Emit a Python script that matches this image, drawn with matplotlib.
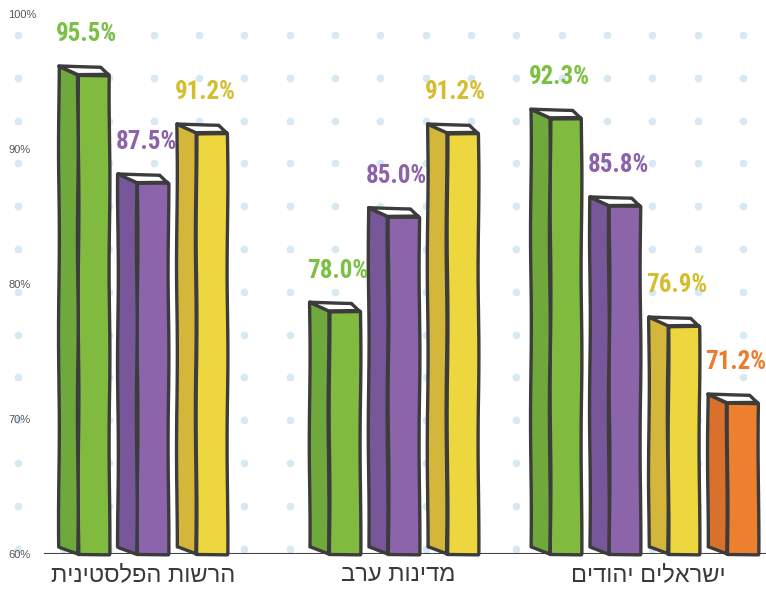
import numpy as np
import matplotlib.pyplot as plt
from matplotlib import font_manager
from matplotlib.patches import Polygon

groups = ["הרשות הפלסטינית", "מדינות ערב", "ישראלים יהודים"]
values = [
    [95.5, 87.5, 91.2],
    [78.0, 85.0, 91.2],
    [92.3, 85.8, 76.9, 71.2],
]
yticks = [60, 70, 80, 90, 100]
ytick_labels = ["60%", "70%", "80%", "90%", "100%"]

front_colors = ["#80bb40", "#8b64aa", "#eed63e", "#ed802e"]
side_colors = ["#70a93b", "#77569a", "#d3b63a", "#d9702b"]
label_colors = ["#7cc043", "#8c62aa", "#d4bd2e", "#ee7b2a"]
edge = "#3c3c3c"

# pick a narrow face for the numbers if the system has one
names = {f.name for f in font_manager.fontManager.ttflist}
if "Liberation Sans Narrow" in names:
    num_font = dict(family=["Liberation Sans Narrow"], fontsize=19)
elif "Roboto Condensed" in names:
    num_font = dict(family=["Roboto Condensed"], fontsize=18)
else:
    num_font = dict(family=["Roboto", "DejaVu Sans"], fontsize=16)
heb_font = dict(family=["Liberation Sans", "DejaVu Sans"], fontsize=17)

fig = plt.figure(figsize=(7.66, 5.89), dpi=100)
ax = fig.add_axes([0, 35 / 589, 1, 540 / 589])
ax.set_xlim(-143 / 59, 623 / 59)
ax.set_ylim(60, 100)
for s in ax.spines.values():
    s.set_visible(False)

# dotted background
gx = np.arange(17) * 0.768 - 2.12
gy = 98.44 - np.arange(13) * 3.17
GX, GY = np.meshgrid(gx, gy)
ax.plot(GX.ravel(), GY.ravel(), "o", ms=4.5, color="#d7e9f3", zorder=0, clip_on=False)

ax.axhline(60, xmin=45 / 766, xmax=1, color="#444444", lw=1.5, zorder=1)

width, side, depth = 0.85, 0.32, 0.65
group_gap = 4.25
for g, vals in enumerate(values):
    n = len(vals)
    for i, v in enumerate(vals):
        c = g * group_gap + (i - (n - 1) / 2) * 1.0
        xl, xr = c - width / 2, c + width / 2
        xf = xl + side
        front = Polygon([(xf, 60), (xr, 60), (xr, v), (xf, v)],
                        fc=front_colors[i], ec=edge, lw=2.4, zorder=3, clip_on=False,
                        joinstyle="round")
        sidep = Polygon([(xf, 60), (xf, v), (xl, v + depth), (xl, 60 + depth * 0.8)],
                        fc=side_colors[i], ec=edge, lw=2.4, zorder=3, clip_on=False,
                        joinstyle="round")
        top = Polygon([(xl, v + depth), (xr - 0.14, v + depth * 0.9), (xr, v), (xf, v)],
                      fc="white", ec=edge, lw=2.4, zorder=4, clip_on=False,
                      joinstyle="round")
        for p in (front, sidep, top):
            p.set_sketch_params(scale=0.4, length=200, randomness=2)
            ax.add_patch(p)
        ax.text(c + 0.05, v + 3.0, f"{v:.1f}%", ha="center", va="center",
                color=label_colors[i], fontweight="bold", zorder=5, **num_font)

ax.set_yticks(yticks)
ax.set_yticklabels(ytick_labels, family=["Liberation Sans", "DejaVu Sans"],
                   fontsize=8, color="#555555")
for lab in ax.get_yticklabels():
    lab.set_horizontalalignment("left")
ax.tick_params(axis="y", length=0, pad=-6)

ax.set_xticks([0, group_gap + 0.08, 2 * group_gap + 0.06])
# matplotlib draws left-to-right, so Hebrew strings are reversed for display
ax.set_xticklabels([t[::-1] for t in groups], color="#3a3a3a", **heb_font)
ax.tick_params(axis="x", length=0, pad=7)

fig.savefig("out.png", dpi=100)
